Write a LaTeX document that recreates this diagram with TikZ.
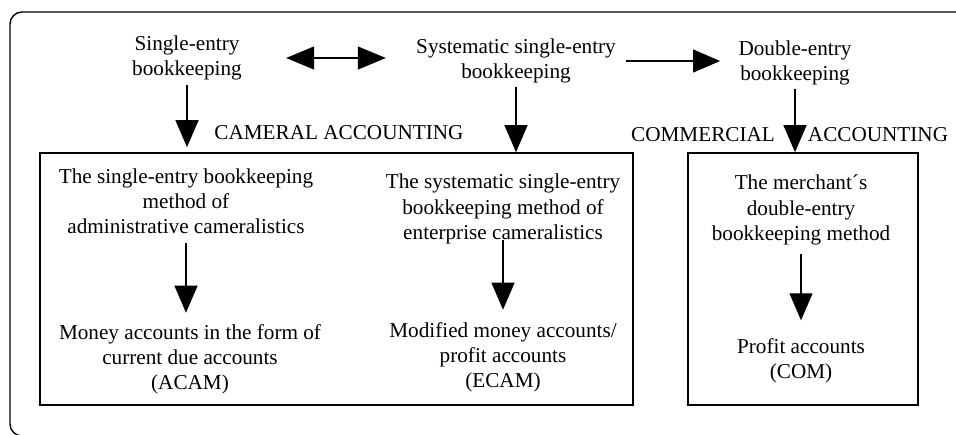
\documentclass[tikz,border=0pt]{standalone}
\usepackage{fontspec}
\setmainfont{Liberation Serif}
\usetikzlibrary{arrows.meta}

\begin{document}
\begin{tikzpicture}[x=0.5pt, y=-0.5pt,
    txt/.style={align=center, inner sep=0pt, font=\fontsize{10.6}{12.6}\selectfont},
    box/.style={draw, line width=0.8pt, inner sep=0pt},
    arr/.style={-{Triangle[length=13.5pt, width=11.5pt]}, line width=0.6pt},
    darr/.style={{Triangle[length=14pt, width=11.5pt]}-{Triangle[length=14pt, width=11.5pt]}, line width=0.6pt}]
    \useasboundingbox (0,0) rectangle (956,434);
    \draw[line width=0.7pt, rounded corners=6pt] (10,12) rectangle (968,436);
    % top row
    \node[txt] (se) at (187,58) {Single-entry\\bookkeeping};
    \node[txt] (sse) at (516,61) {Systematic single-entry\\bookkeeping};
    \node[txt] (de) at (795,63) {Double-entry\\bookkeeping};
    % the two frames
    \node[box, minimum width=296.5pt, minimum height=126pt] (cam) at (336.5,279) {};
    \node[box, minimum width=115pt, minimum height=126pt] (com) at (803,279) {};
    \node[txt] (camlbl) at (339,133) {CAMERAL ACCOUNTING};
    \node[txt] (comlbl) at (703,135) {COMMERCIAL};
    \node[txt] (acclbl) at (878,135) {ACCOUNTING};
    % inside the frames
    \node[txt] (acm) at (186,201) {The single-entry bookkeeping\\method of\\administrative cameralistics};
    \node[txt] (acc) at (190,359) {Money accounts in the form of\\current due accounts\\(ACAM)};
    \node[txt] (ecm) at (503,209) {The systematic single-entry\\bookkeeping method of\\enterprise cameralistics};
    \node[txt] (ecc) at (503,357) {Modified money accounts/\\profit accounts\\(ECAM)};
    \node[txt] (mcm) at (801,210) {The merchant´s\\double-entry\\bookkeeping method};
    \node[txt] (mcc) at (801,361) {Profit accounts\\(COM)};
    % connectors
    \draw[darr, shorten <=22pt, shorten >=15pt] (se.east) -- (se.east -| sse.west);
    \draw[arr, shorten <=5pt, shorten >=9pt] (sse.east) -- (sse.east -| de.west);
    \draw[arr, shorten <=2pt, shorten >=2.5pt] (se.south) -- (se.south |- cam.north);
    \draw[arr, shorten <=1.5pt] (sse.south) -- (sse.south |- cam.north);
    \draw[arr, shorten <=1.5pt] (de.south) -- (de.south |- com.north);
    \draw[arr, shorten <=4.5pt, shorten >=5.5pt] (acm.south) -- (acm.south |- acc.north);
    \draw[arr, shorten <=-2pt, shorten >=6pt] (ecm.south) -- (ecm.south |- ecc.north);
    \draw[arr, shorten <=4.5pt, shorten >=9pt] (mcm.south) -- (mcm.south |- mcc.north);
\end{tikzpicture}
\end{document}
